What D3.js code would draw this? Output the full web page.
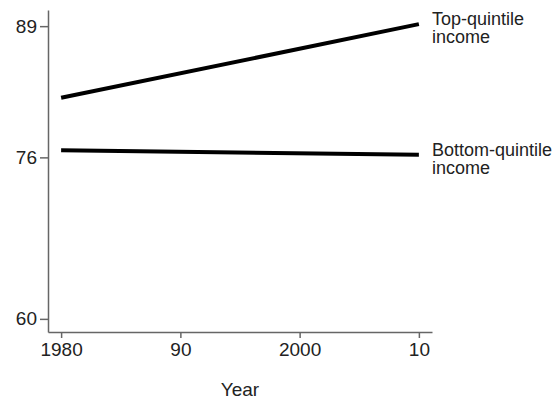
<!DOCTYPE html>
<html>
<head>
<meta charset="utf-8">
<script src="https://cdn.jsdelivr.net/npm/d3@7"></script>
<style>
  body { margin: 0; background: #fff; }
  svg { font-family: "Liberation Sans", Arial, sans-serif; }
</style>
</head>
<body>
<svg id="chart" width="556" height="400"></svg>
<script>
// values
const years = [1980, 2010];
const topQuintile = [81.9, 89.2];
const bottomQuintile = [76.7, 76.25];
const xTicks = [1980, 1990, 2000, 2010];
const xTickLabels = ["1980", "90", "2000", "10"];
const yTicks = [60, 76, 89];
const seriesLabels = [["Top-quintile", "income"], ["Bottom-quintile", "income"]];

const svg = d3.select("#chart");

const x = d3.scaleLinear().domain([1978.9, 2011.1]).range([48, 432]);
const y = d3.scaleLinear().domain([58.7, 90.6]).range([332, 10]);

const axisColor = "#666";

// x axis
const gx = svg.append("g")
  .attr("transform", `translate(0,${y.range()[0]})`)
  .call(d3.axisBottom(x)
    .tickValues(xTicks)
    .tickFormat((d, i) => xTickLabels[i])
    .tickSize(6)
    .tickSizeOuter(0)
    .tickPadding(5));

// y axis
const gy = svg.append("g")
  .attr("transform", `translate(${x.range()[0]},0)`)
  .call(d3.axisLeft(y)
    .tickValues(yTicks)
    .tickSize(8)
    .tickSizeOuter(0)
    .tickPadding(3));

[gx, gy].forEach(g => {
  g.select(".domain").attr("stroke", axisColor).attr("stroke-width", 1.5);
  g.selectAll(".tick line").attr("stroke", axisColor).attr("stroke-width", 1.5);
  g.selectAll(".tick text").attr("fill", "#222").style("font-size", "19px");
});

svg.append("text")
  .attr("x", 240)
  .attr("y", 396)
  .attr("text-anchor", "middle")
  .attr("fill", "#222")
  .style("font-size", "19px")
  .text("Year");

const line = d3.line()
  .x(d => x(d[0]))
  .y(d => y(d[1]));

const series = [topQuintile, bottomQuintile];

svg.selectAll(".series")
  .data(series)
  .enter().append("path")
  .attr("class", "series")
  .attr("fill", "none")
  .attr("stroke", "#000")
  .attr("stroke-width", 4)
  .attr("d", vals => line(years.map((yr, i) => [yr, vals[i]])));

// end labels
series.forEach((vals, k) => {
  const last = vals[vals.length - 1];
  const t = svg.append("text")
    .attr("x", 432)
    .attr("y", y(last) + 1)
    .attr("fill", "#222")
    .style("font-size", "18px");
  seriesLabels[k].forEach((s, j) => {
    t.append("tspan")
      .attr("x", 432)
      .attr("dy", j === 0 ? 0 : 18)
      .text(s);
  });
});
</script>
</body>
</html>
